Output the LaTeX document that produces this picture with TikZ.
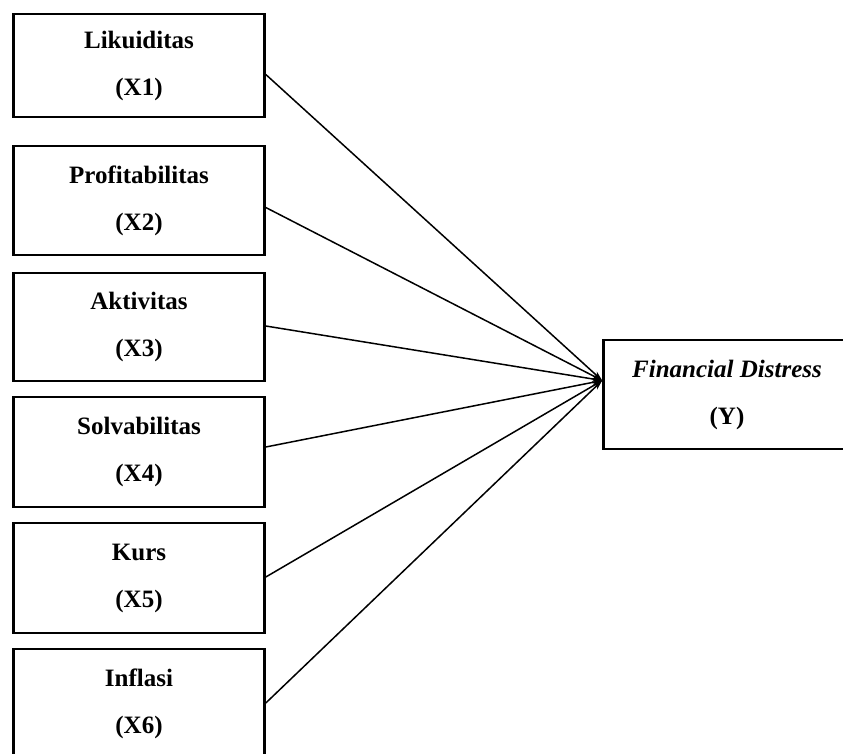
\documentclass[tikz,border=0pt]{standalone}
\usepackage{fontspec}
\setmainfont{Liberation Serif}
\usetikzlibrary{arrows.meta}
\begin{document}
\begin{tikzpicture}[x=1pt,y=-1pt,
  varbox/.style={draw=black,line width=2.6pt,rectangle,minimum width=251pt,
    align=center,inner sep=0pt,
    font=\fontsize{25}{47}\selectfont\bfseries},
  link/.style={line width=1.5pt,-{Stealth[length=10pt,width=6pt]}}]
  \useasboundingbox (0,0) rectangle (843,753);
  \fill[white] (0,0) rectangle (843,753);
  % independent variables
  \node[varbox,minimum height=103pt] (x1) at (139,65.5) {Likuiditas\\(X1)};
  \node[varbox,minimum height=109pt] (x2) at (139,200.5) {Profitabilitas\\(X2)};
  \node[varbox,minimum height=108pt] (x3) at (139,327) {Aktivitas\\(X3)};
  \node[varbox,minimum height=110pt] (x4) at (139,452) {Solvabilitas\\(X4)};
  \node[varbox,minimum height=110pt] (x5) at (139,578) {Kurs\\(X5)};
  \node[varbox,minimum height=110pt] (x6) at (139,704) {Inflasi\\(X6)};
  % dependent variable
  \node[varbox,minimum width=247pt,minimum height=109pt] (y) at (727,394.5)
    {\textit{Financial Distress}\\(Y)};
  % influence arrows
  \draw[link] ([yshift=-9pt]x1.east) -- ([yshift=14pt]y.west);
  \draw[link] ([yshift=-7pt]x2.east) -- ([yshift=14pt]y.west);
  \draw[link] ([yshift=1pt]x3.east) -- ([yshift=14pt]y.west);
  \draw[link] ([yshift=5pt]x4.east) -- ([yshift=14pt]y.west);
  \draw[link] ([yshift=1pt]x5.east) -- ([yshift=14pt]y.west);
  \draw[link] ([yshift=1pt]x6.east) -- ([yshift=14pt]y.west);
\end{tikzpicture}
\end{document}
